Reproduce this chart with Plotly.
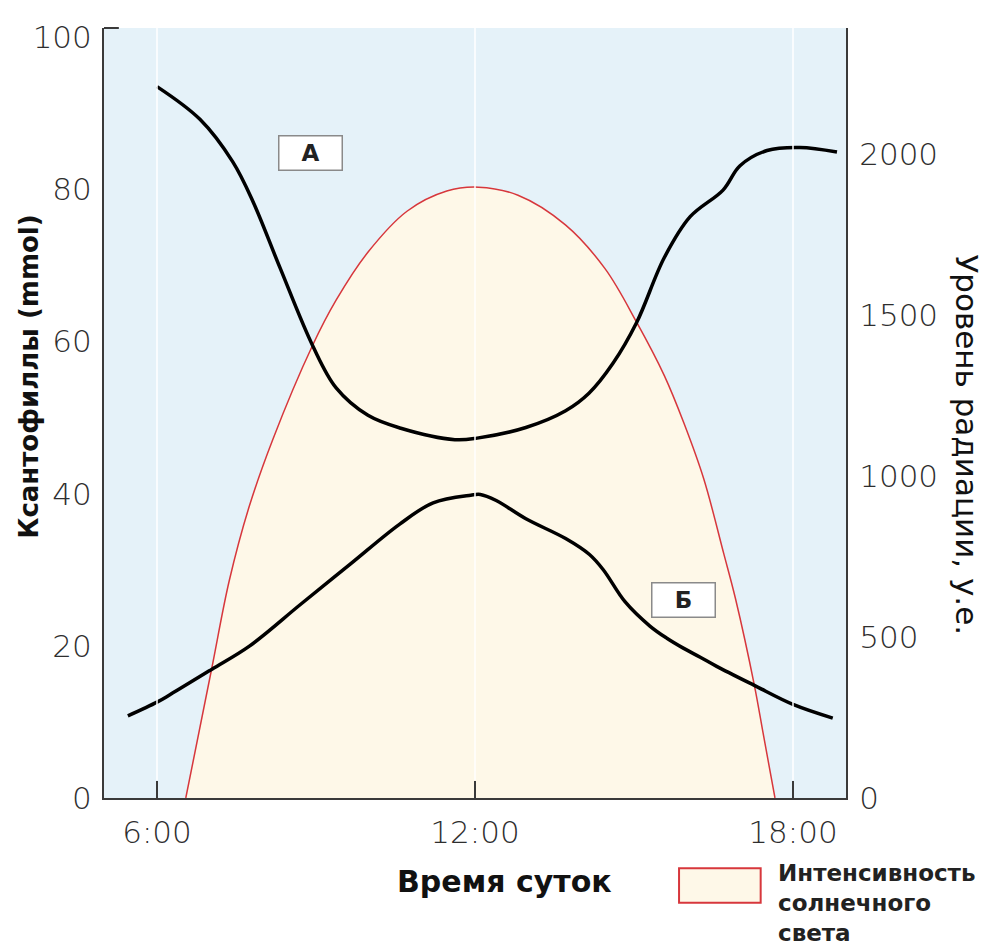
import plotly.graph_objects as go

# ---- data ----
hours_sun = [6.543, 7.028, 7.364, 7.738, 8.185, 8.93, 9.379, 9.975, 10.723, 11.468, 12.064,
             12.811, 13.706, 14.453, 15.049, 15.572, 15.943, 16.317, 16.691, 16.913, 17.272, 17.436, 17.66]
sun_level = [0, 398, 675, 904, 1113, 1403, 1545, 1693, 1822, 1884, 1896,
             1871, 1779, 1643, 1477, 1311, 1163, 990, 760, 620, 349, 201, 0]

hours_a = [6.0, 6.81, 7.43, 7.81, 8.32, 8.94, 9.38, 9.98, 10.6, 11.62, 12.04, 12.96, 13.71, 14.15, 14.60, 15.05, 15.57, 16.06, 16.68, 17.0, 17.51, 18.13, 18.83]
xanth_a = [93.5, 89.2, 83.6, 78.4, 69.7, 59.4, 53.9, 50.3, 48.6, 47.1, 47.3, 48.7, 50.9, 53.2, 57.1, 62.5, 71.0, 76.4, 79.9, 83.1, 85.1, 85.5, 84.9]

hours_b = [5.45, 6.0, 6.25, 7.03, 7.75, 8.70, 9.64, 10.58, 11.21, 11.92, 12.1, 12.4, 12.96, 13.71, 14.16, 14.42, 14.83, 15.30, 15.62, 15.93, 16.25, 16.56, 17.27, 18.0, 18.75]
xanth_b = [10.8, 12.6, 13.6, 16.9, 20.0, 25.4, 30.7, 36.0, 38.8, 39.8, 39.9, 39.1, 36.7, 34.1, 32.0, 30.0, 25.8, 22.6, 21.0, 19.7, 18.5, 17.3, 14.8, 12.3, 10.5]

x_tickvals = [6, 12, 18]
x_ticktext = ["6:00", "12:00", "18:00"]
y_left_ticks = [0, 20, 40, 60, 80, 100]
y_right_ticks = [0, 500, 1000, 1500, 2000]

label_a = ("А", 8.89, 84.8)
label_b = ("Б", 15.94, 26.0)

# ---- styles ----
BG = "#E5F2F9"
SUN_FILL = "#FEF8E8"
SUN_LINE = "#D7373C"
AXIS = "#3a3a3a"
FONT = "DejaVu Sans"
TICKLEN = 17
PLOT_H = 779

fig = go.Figure()
# radiation on primary y (drawn first, below)
fig.add_trace(go.Scatter(x=hours_sun, y=sun_level, yaxis="y", mode="lines",
                         line=dict(color=SUN_LINE, width=1.5, shape="spline", smoothing=1.0),
                         fill="tozeroy", fillcolor=SUN_FILL, showlegend=False, hoverinfo="skip"))
# xanthophylls on overlaying y2 (drawn above)
fig.add_trace(go.Scatter(x=hours_a, y=xanth_a, yaxis="y2", mode="lines",
                         line=dict(color="black", width=3.5, shape="spline", smoothing=1.0),
                         showlegend=False))
fig.add_trace(go.Scatter(x=hours_b, y=xanth_b, yaxis="y2", mode="lines",
                         line=dict(color="black", width=3.5, shape="spline", smoothing=1.0),
                         showlegend=False))

shapes = []
for xv in x_tickvals:
    shapes.append(dict(type="line", xref="x", yref="paper", x0=xv, x1=xv,
                       y0=(TICKLEN + 1) / PLOT_H, y1=1,
                       line=dict(color="white", width=1.5), layer="above"))
shapes.append(dict(type="line", xref="paper", yref="paper", x0=0, x1=0.02, y0=1, y1=1,
                   line=dict(color=AXIS, width=2), layer="above"))
shapes.append(dict(type="rect", xref="paper", yref="paper", x0=0.775, x1=0.885, y0=-0.1361, y1=-0.0911,
                   fillcolor=SUN_FILL, line=dict(color=SUN_LINE, width=2)))

annotations = []
for txt, xv, yv in (label_a, label_b):
    annotations.append(dict(x=xv, y=yv, xref="x", yref="y2", text="<b>" + txt + "</b>", showarrow=False,
                            font=dict(family=FONT, size=23, color="#222"),
                            bgcolor="white", bordercolor="#8a8a8a", borderwidth=1.5,
                            width=60, height=31, borderpad=1))
annotations.append(dict(x=0.54, y=-0.109, xref="paper", yref="paper", text="<b>Время суток</b>",
                        showarrow=False, font=dict(family=FONT, size=30, color="#111"),
                        xanchor="center", yanchor="middle"))
annotations.append(dict(x=0.906, y=-0.137, xref="paper", yref="paper",
                        text="<b>Интенсивность<br>солнечного<br>света</b>", showarrow=False,
                        font=dict(family=FONT, size=23, color="#222"), align="left",
                        xanchor="left", yanchor="middle"))
annotations.append(dict(x=-0.101, y=0.547, xref="paper", yref="paper", text="<b>Ксантофиллы (mmol)</b>",
                        showarrow=False, textangle=-90, font=dict(family=FONT, size=26, color="#111"),
                        xanchor="center", yanchor="middle"))
annotations.append(dict(x=1.163, y=0.458, xref="paper", yref="paper", text="Уровень радиации, у.е.",
                        showarrow=False, textangle=90, font=dict(family=FONT, size=31, color="#111"),
                        xanchor="center", yanchor="middle"))

tickfont = dict(family=FONT, size=31, color="#2e2e2e", weight=300)

fig.update_layout(
    width=985, height=937,
    margin=dict(l=96, r=147, t=11, b=147),
    paper_bgcolor="white", plot_bgcolor=BG,
    xaxis=dict(range=[5.0, 19.0], tickvals=x_tickvals, ticktext=x_ticktext,
               showgrid=False, zeroline=False, showline=True, linecolor=AXIS, linewidth=2,
               ticks="inside", ticklen=TICKLEN, tickwidth=2, tickcolor=AXIS, layer="above traces",
               tickfont=tickfont, ticklabelstandoff=6),
    yaxis=dict(range=[0, 2390], tickvals=y_right_ticks, side="right",
               showgrid=False, zeroline=False, showline=True, linecolor=AXIS, linewidth=2,
               ticks="", layer="above traces", tickfont=tickfont, ticklabelstandoff=5),
    yaxis2=dict(range=[0, 101.2], tickvals=y_left_ticks, overlaying="y", side="left",
                showgrid=False, zeroline=False, showline=True, linecolor=AXIS, linewidth=2,
                ticks="", layer="above traces", tickfont=tickfont, ticklabelstandoff=4),
    shapes=shapes, annotations=annotations, showlegend=False,
)

fig.write_html("out.html")
